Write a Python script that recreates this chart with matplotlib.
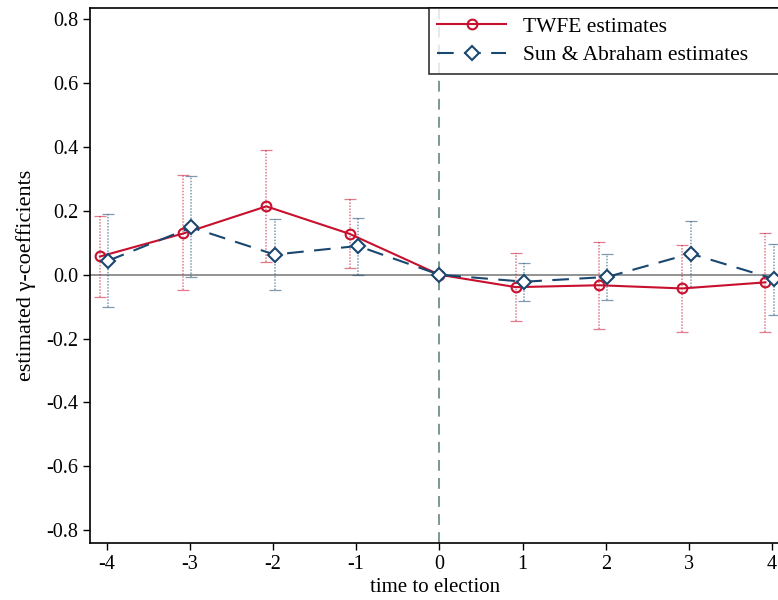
import matplotlib
matplotlib.use("Agg")
import matplotlib.pyplot as plt
import numpy as np

# tiempo a la eleccion
periods = [-4, -3, -2, -1, 0, 1, 2, 3, 4]

# TWFE
twfe_coef = [0.057, 0.129, 0.214, 0.128, 0.0, -0.039, -0.033, -0.043, -0.024]
twfe_hi = [0.185, 0.311, 0.389, 0.237, 0.0, 0.069, 0.103, 0.092, 0.131]
twfe_lo = [-0.070, -0.049, 0.041, 0.021, 0.0, -0.146, -0.169, -0.178, -0.179]

# Sun & Abraham
sa_coef = [0.044, 0.148, 0.063, 0.090, 0.0, -0.022, -0.007, 0.066, -0.013]
sa_hi = [0.190, 0.308, 0.175, 0.179, 0.0, 0.038, 0.064, 0.167, 0.097]
sa_lo = [-0.100, -0.008, -0.047, 0.000, 0.0, -0.083, -0.078, -0.037, -0.125]

ytick_vals = [-0.8, -0.6, -0.4, -0.2, 0.0, 0.2, 0.4, 0.6, 0.8]

plt.rcParams["font.family"] = ["Liberation Serif", "DejaVu Serif"]
plt.rcParams["axes.unicode_minus"] = False

red = "#c8102e"
navy = "#1a476f"

x = np.array(periods, dtype=float)
x_twfe = np.where(x == 0, 0, x - 0.08)
x_sa = np.where(x == 0, 0, x + 0.02)

fig = plt.figure(figsize=(7.78, 6.0), dpi=100)
ax = fig.add_axes([90 / 778, 1 - 543 / 600, 1 - 90 / 778 + 0.002, (543 - 8) / 600])

ax.axhline(0, color="#808080", lw=1.2, zorder=1)
ax.axvline(0, color="#6f9088", lw=1.3, ls=(0, (6, 4)), zorder=1)

# intervalos de confianza (punteados)
tw = np.array(twfe_coef)
eb1 = ax.errorbar(x_twfe, tw, yerr=[tw - np.array(twfe_lo), np.array(twfe_hi) - tw],
                  fmt="none", ecolor=red, elinewidth=1.1, capsize=4, capthick=0.9,
                  alpha=0.55, zorder=2)
sa = np.array(sa_coef)
eb2 = ax.errorbar(x_sa, sa, yerr=[sa - np.array(sa_lo), np.array(sa_hi) - sa],
                  fmt="none", ecolor=navy, elinewidth=1.1, capsize=4, capthick=0.9,
                  alpha=0.55, zorder=2)
for eb in (eb1, eb2):
    for lc in eb[2]:
        lc.set_linestyle((0, (1, 1)))

ax.plot(x_twfe, tw, color=red, lw=1.5, marker="o", ms=7, mfc="none", mew=1.5,
        label="TWFE estimates", zorder=3)
ax.plot(x_sa, sa, color=navy, lw=1.5, ls=(0, (8, 5)), marker="D", ms=7, mfc="white",
        mew=1.5, label="Sun & Abraham estimates", zorder=4)

ax.set_xlim(-4.2, 4.09)
ax.set_ylim(-0.84, 0.835)
ax.set_xticks(periods)
ax.set_xticklabels([str(p) for p in periods])
ax.set_yticks(ytick_vals)
ax.set_yticklabels([f"{v:.1f}" for v in ytick_vals])
ax.tick_params(labelsize=14.5, length=5, width=1, direction="out", colors="black")
ax.spines["right"].set_visible(False)
for s in ["left", "bottom", "top"]:
    ax.spines[s].set_linewidth(1.2)

ax.set_xlabel("time to election", fontsize=15, labelpad=3)
ax.set_ylabel("estimated γ-coefficients", fontsize=16, labelpad=7)

leg = ax.legend(loc="upper left", bbox_to_anchor=((428 - 90) / 688, 0, 0.53, 1.0),
                mode="expand", fontsize=15.5, frameon=True, fancybox=False,
                edgecolor="black", borderaxespad=0, handlelength=3.2,
                borderpad=0.4, labelspacing=0.4)
leg.get_frame().set_linewidth(1.2)

fig.savefig("out.png", dpi=100)
plt.close(fig)
